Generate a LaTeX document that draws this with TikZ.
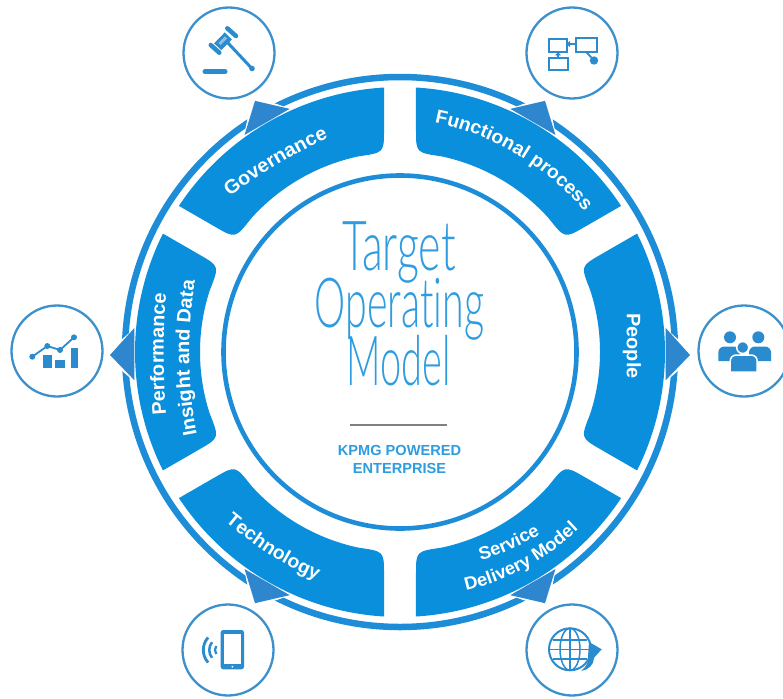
\documentclass[tikz,border=0pt]{standalone}
\usepackage{fontspec}
\usetikzlibrary{decorations.text,shapes.geometric,calc}
\setmainfont{Liberation Sans}
\newfontfamily\labf[FakeStretch=1.02]{Liberation Sans Bold}
\newcommand{\titlefont}[1]{\fontspec{Lato Light}[FakeStretch=#1,Ligatures=NoCommon]\fontsize{69}{69}\selectfont}
\definecolor{segblue}{HTML}{0A8FDC}
\definecolor{ringblue}{HTML}{1D8DD8}
\definecolor{ptrblue}{HTML}{2E86CE}
\definecolor{iconblue}{HTML}{2A8CCF}
\definecolor{circblue}{HTML}{3C90CB}
\definecolor{titleblue}{HTML}{2E9CE0}
\tikzset{
  iconcirc/.style={circle,draw=circblue,line width=2.3pt,minimum size=91pt,inner sep=0pt,fill=white},
  iconline/.style={draw=iconblue,line width=1.8pt},
  lab/.style={text=white,font=\labf\fontsize{19.5}{21}\selectfont},
  sub/.style={text=titleblue,font=\bfseries\fontsize{14.6}{17}\selectfont,anchor=center},
  titleline/.style={text=titleblue,anchor=base,inner sep=0pt},
}
\newcommand{\arclabel}[3]{\path[decorate,decoration={text along path,text align=center,text={|\labf\fontsize{#2}{#2}\selectfont\color{white}|#3}}] #1;}
\begin{document}
\begin{tikzpicture}[x=1pt,y=-1pt]
\useasboundingbox (0,0) rectangle (783,698);
\clip (0,0) rectangle (783,698);
\fill[white] (0,0) rectangle (783,698);
% outer ring
\draw[ringblue,line width=6.5pt] (400,352) circle[radius=275pt];
% white notches in the ring
\foreach \a/\d in {0/-3,60/0,120/0,180/3,240/0,300/0}{
\begin{scope}[shift={(400,352)},y=1pt,rotate=\a]
\fill[white] (296,\d) -- ($(6.9:262)+(0,\d)$) -- ($(-6.9:262)+(0,\d)$) -- cycle;
\end{scope}}
% segments with pointers
\foreach \a/\d in {0/-3,60/0,120/0,180/3,240/0,300/0}{
\begin{scope}[shift={(400,352)},y=1pt,rotate=\a]
\fill[segblue] (26.54:265) arc[start angle=26.54,end angle=-26.54,radius=265]
  -- (-25.87:222) .. controls (-25.4:200) .. (-18:200)
  arc[start angle=-18,end angle=18,radius=200]
  .. controls (25.4:200) .. (25.87:222) -- cycle;
\fill[ptrblue] (290,\d) -- ($(5.6:267)+(0,0.7*\d)$) -- ($(-5.6:267)+(0,0.7*\d)$) -- cycle;
\end{scope}}
% inner circle
\draw[ringblue,line width=4.6pt] (400,352) circle[radius=176.5pt];
% icon circles
\node[iconcirc] (gov) at (229,53) {};
\node[iconcirc] (fun) at (572,53) {};
\node[iconcirc] (per) at (57,351) {};
\node[iconcirc] (peo) at (744,351) {};
\node[iconcirc] (tec) at (228,650) {};
\node[iconcirc] (ser) at (572,650) {};
% gavel
\draw[iconblue,line width=10pt] (228.3,36) -- (217.7,46.7);
\draw[iconblue!55,line width=3pt] (226,37.5) -- (219.5,44);
\draw[iconblue,line width=4.5pt,line cap=round] (227.3,28.3) -- (236,36);
\draw[iconblue,line width=4.5pt,line cap=round] (210.7,45) -- (219.3,52.7);
\draw[iconblue,line width=3pt] (228,43) -- (251.7,68.3);
\fill[iconblue] (252,68.5) circle[radius=2.8pt];
\draw[iconblue,line width=5pt,line cap=round] (205,71.7) -- (225,71.7);
% process
\draw[iconline] (549.3,39.3) rectangle (566.7,51.7);
\draw[iconline] (576,38.3) rectangle (596.7,51.7);
\draw[iconline] (549.3,58.3) rectangle (568.3,70);
\draw[iconline] (566.7,44) -- (576,44);
\fill[iconblue] (570,41) -- (570,47) -- (566,44) -- cycle;
\draw[iconline] (558,51.7) -- (558,58.3);
\fill[iconblue] (555,55.5) -- (561,55.5) -- (558,52) -- cycle;
\draw[iconline] (586,51.7) -- (594,60.5);
\fill[iconblue] (594,60.5) circle[radius=4.2pt];
% chart
\fill[iconblue] (43.3,355) rectangle (52,368.3);
\fill[iconblue] (55,360) rectangle (65,368.3);
\fill[iconblue] (70.7,348.3) rectangle (78,368.3);
\draw[iconline] (32.3,356.7) -- (47.3,346) -- (60,350) -- (74,337.3);
\foreach \p in {(32.3,356.7),(47.3,346),(60,350),(74,337.3)}{\fill[iconblue] \p circle[radius=3pt];}
% people
\fill[iconblue] (718.3,361) [rounded corners=6pt] -- (718.3,346.5) -- (740,346.5) [sharp corners] -- (740,361) -- cycle;
\fill[iconblue] (749,361) [rounded corners=6pt] -- (749,346.5) -- (771,346.5) [sharp corners] -- (771,361) -- cycle;
\fill[iconblue] (730,337.3) circle[radius=6pt];
\fill[iconblue] (758.3,337.3) circle[radius=6pt];
\filldraw[fill=iconblue,draw=white,line width=1.5pt] (742.7,347.5) circle[radius=6pt];
\filldraw[fill=iconblue,draw=white,line width=1.5pt] (730.2,372) [rounded corners=6pt] -- (730.2,355) -- (757.2,355) [sharp corners] -- (757.2,372) -- cycle;
% phone
\fill[iconblue,rounded corners=2.5pt] (220.7,630) rectangle (244,669.3);
\fill[white] (224,634) rectangle (240.7,664);
\fill[white] (232.3,666.7) circle[radius=1pt];
\begin{scope}[shift={(222,650)},y=1pt]
\draw[iconblue,line width=2.8pt] (138:18.7) arc[start angle=138,end angle=222,radius=18.7];
\draw[iconblue,line width=2.5pt] (142:12.7) arc[start angle=142,end angle=218,radius=12.7];
\draw[iconblue,line width=2.2pt] (145:7) arc[start angle=145,end angle=215,radius=7];
\end{scope}
% globe
\draw[iconblue,line width=2pt] (570,649.3) circle[radius=21pt];
\draw[iconblue,line width=1.5pt] (570,649.3) circle[x radius=10pt,y radius=21pt];
\draw[iconblue,line width=1.5pt] (570,628.3) -- (570,670.3);
\draw[iconblue,line width=1.5pt] (549,649.3) -- (591,649.3);
\draw[iconblue,line width=1.5pt] (553,640) -- (587,640);
\draw[iconblue,line width=1.5pt] (553,659) -- (587,659);
\fill[iconblue] (581,671) .. controls (587,666) and (589,661) .. (588,657) -- (589,642) -- (601.7,649.3) -- (592,660) -- (594,658) .. controls (594,665) and (588,670) .. (581,671) -- cycle;
% title
\node[titleline] (t1) at (399,270) {\titlefont{0.62}Target};
\node[titleline] (t2) at (399.5,327) {\titlefont{0.57}Operating};
\node[titleline] (t3) at (399,385) {\titlefont{0.55}Model};
\draw[draw=black!50,line width=2.4pt] (350,425) -- (447,425);
\node[sub] (s1) at (399.5,450) {KPMG POWERED};
\node[sub] (s2) at (399.5,468) {ENTERPRISE};
% labels
\arclabel{(229,197) .. controls (262,173) and (295,153) .. (329,138)}{19.5}{Governance}
\arclabel{(437,123) .. controls (495,135) and (550,170) .. (583,210)}{19}{Functional process}
\node[lab,rotate=-90] (lpeople) at (632,346) {People};
\arclabel{(216,514) .. controls (248,542) and (285,568) .. (328,584)}{19}{Technology}
\arclabel{(480,560) .. controls (500,556) and (520,545) .. (541,534)}{18}{Service}
\arclabel{(460,592) .. controls (505,583) and (548,560) .. (583,525)}{18}{Delivery Model}
\arclabel{(166,413) .. controls (163,375) and (163,333) .. (166,295)}{19.5}{Performance}
\arclabel{(197,435) .. controls (187,385) and (187,331) .. (195,281)}{19.5}{Insight and Data}
\end{tikzpicture}
\end{document}
